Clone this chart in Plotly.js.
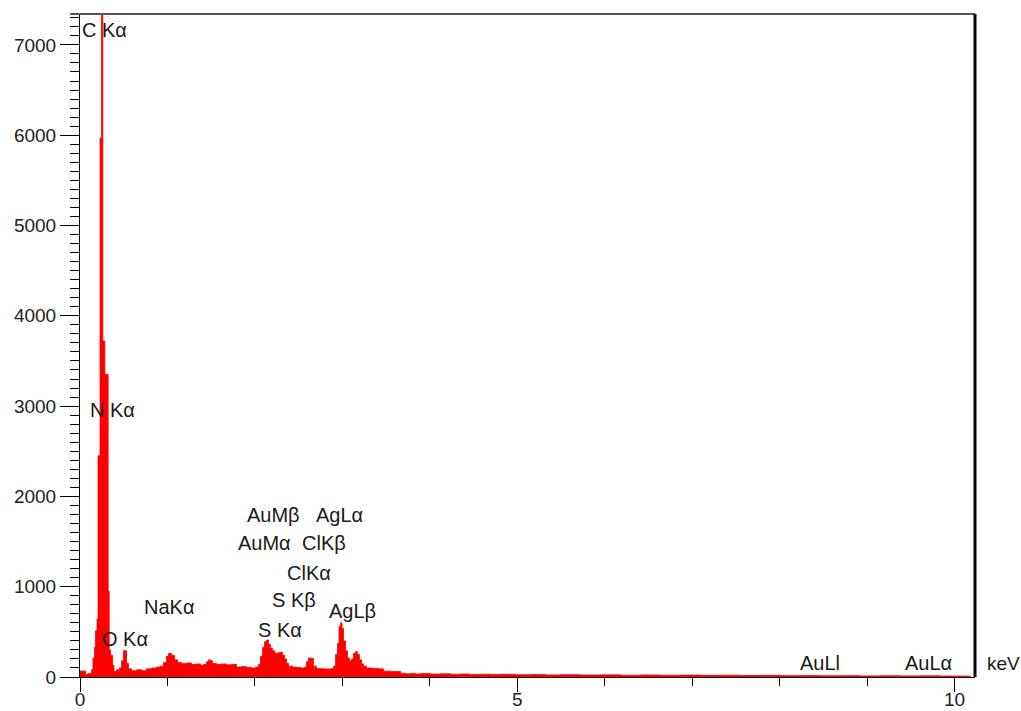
<!DOCTYPE html>
<html>
<head>
<meta charset="utf-8">
<script src="https://cdn.plot.ly/plotly-3.0.1.min.js"></script>
<style>
html,body{margin:0;padding:0;background:#fff;}
#chart{width:1021px;height:711px;}
</style>
</head>
<body>
<div id="chart"></div>
<script>
// Energy (keV) at the start of each channel step, and counts
var energyKeV = [
  0.000,0.063,0.097,0.132,0.149,0.166,0.177,0.194,0.206,0.229,
  0.246,0.261,0.284,0.322,0.334,0.349,0.372,0.389,0.417,0.452,
  0.475,0.497,0.532,0.555,0.589,0.646,0.703,0.760,0.818,0.875,
  0.921,0.955,0.989,1.012,1.046,1.081,1.115,1.161,1.218,1.275,
  1.332,1.378,1.412,1.447,1.469,1.492,1.515,1.561,1.618,1.675,
  1.732,1.790,1.847,1.904,1.961,2.007,2.041,2.064,2.087,2.110,
  2.133,2.156,2.178,2.201,2.224,2.247,2.270,2.293,2.316,2.339,
  2.361,2.384,2.430,2.476,2.521,2.567,2.590,2.613,2.647,2.670,
  2.704,2.750,2.807,2.864,2.899,2.922,2.944,2.962,2.979,2.996,
  3.013,3.036,3.059,3.082,3.104,3.127,3.150,3.173,3.196,3.219,
  3.242,3.276,3.345,3.413,3.471,3.551,3.665,3.722,3.779,3.837,
  3.894,4.008,4.122,4.237,4.351,4.465,4.580,4.694,4.809,4.980,
  5.152,5.323,5.494,5.723,5.952,6.181,6.409,6.638,6.867,7.095,
  7.324,7.553,7.781,8.010,8.239,8.468,8.697,8.925,9.154,9.382,
  9.611,9.840,10.011,10.183
];
var counts = [
  66,30,40,80,210,330,510,640,2450,5970,
  7600,3720,3350,950,300,240,130,60,80,100,
  180,290,150,90,70,80,70,90,100,110,
  120,160,230,260,240,190,160,150,155,140,
  145,130,140,170,190,180,150,140,145,135,
  140,110,115,105,100,110,140,230,330,390,
  410,360,320,290,265,260,270,275,240,200,
  150,120,110,105,100,110,170,210,205,120,
  95,90,88,92,120,250,370,560,600,540,
  400,290,210,180,200,260,280,250,190,145,
  120,100,95,90,65,60,42,35,40,33,
  38,32,36,30,33,28,31,27,30,25,
  27,23,25,22,24,20,22,19,21,18,
  20,17,18,15,16,14,15,12,14,12,
  13,11,10,0
];

// Peak labels
var labelText = ["C K\u03b1","N K\u03b1","O K\u03b1","NaK\u03b1","AuM\u03b2","AgL\u03b1","AuM\u03b1","ClK\u03b2","ClK\u03b1","S K\u03b2","AgL\u03b2","S K\u03b1","AuLl","AuL\u03b1"];
var labelX = [0.000,0.086,0.231,0.711,1.881,2.681,1.786,2.510,2.339,2.175,2.822,2.007,8.205,9.405];
var labelY = [7170,2957,426,775,1794,1794,1484,1484,1152,853,731,520,155,155];

var xTickVals = [0,5,10];
var xTickText = ["0","5","10"];
var yTickVals = [0,1000,2000,3000,4000,5000,6000,7000];
var yTickText = ["0","1000","2000","3000","4000","5000","6000","7000"];

var FONT = "Liberation Sans, Arial, sans-serif";

var trace = {
  x: energyKeV,
  y: counts,
  type: "scatter",
  mode: "lines",
  line: {shape: "hv", color: "#ff0000", width: 0.8},
  fill: "tozeroy",
  fillcolor: "#ff0000",
  hoverinfo: "x+y"
};

var annotations = labelText.map(function(t, i){
  return {
    x: labelX[i], y: labelY[i], xref: "x", yref: "y",
    text: t, showarrow: false, xanchor: "left", yanchor: "middle",
    font: {family: FONT, size: 20, color: "#1a1a1a"}
  };
});
annotations.push({
  x: 1.011, y: 155, xref: "paper", yref: "y", text: "keV", showarrow: false,
  xanchor: "left", yanchor: "middle",
  font: {family: FONT, size: 19, color: "#1a1a1a"}
});

var layout = {
  width: 1021, height: 711,
  margin: {l: 80, r: 46, t: 14, b: 34, pad: 0},
  paper_bgcolor: "#ffffff",
  plot_bgcolor: "#ffffff",
  showlegend: false,
  font: {family: FONT, size: 19, color: "#222"},
  xaxis: {
    range: [0, 10.234],
    tickmode: "array", tickvals: xTickVals, ticktext: xTickText,
    ticks: "outside", ticklen: 14, tickwidth: 1, tickcolor: "#000",
    ticklabelstandoff: -9,
    minor: {dtick: 1, ticks: "outside", ticklen: 8, tickwidth: 1, tickcolor: "#000", showgrid: false},
    showline: true, linecolor: "#000", linewidth: 1,
    showgrid: false, zeroline: false,
    tickfont: {family: FONT, size: 19, color: "#222"}
  },
  yaxis: {
    range: [0, 7342],
    tickmode: "array", tickvals: yTickVals, ticktext: yTickText,
    ticks: "outside", ticklen: 19, tickwidth: 1, tickcolor: "#000",
    minor: {dtick: 100, ticks: "outside", ticklen: 9, tickwidth: 1, tickcolor: "#000", showgrid: false},
    showline: true, linecolor: "#000", linewidth: 1,
    showgrid: false, zeroline: false,
    tickfont: {family: FONT, size: 19, color: "#222"}
  },
  shapes: [
    {type: "line", xref: "paper", yref: "paper", x0: -0.011, x1: 1, y0: 1, y1: 1,
     line: {color: "#555", width: 2}},
    {type: "line", xref: "paper", yref: "paper", x0: 1, x1: 1, y0: 0, y1: 1,
     line: {color: "#000", width: 3}}
  ],
  annotations: annotations
};

Plotly.newPlot("chart", [trace], layout, {displayModeBar: false, staticPlot: true});
</script>
</body>
</html>
